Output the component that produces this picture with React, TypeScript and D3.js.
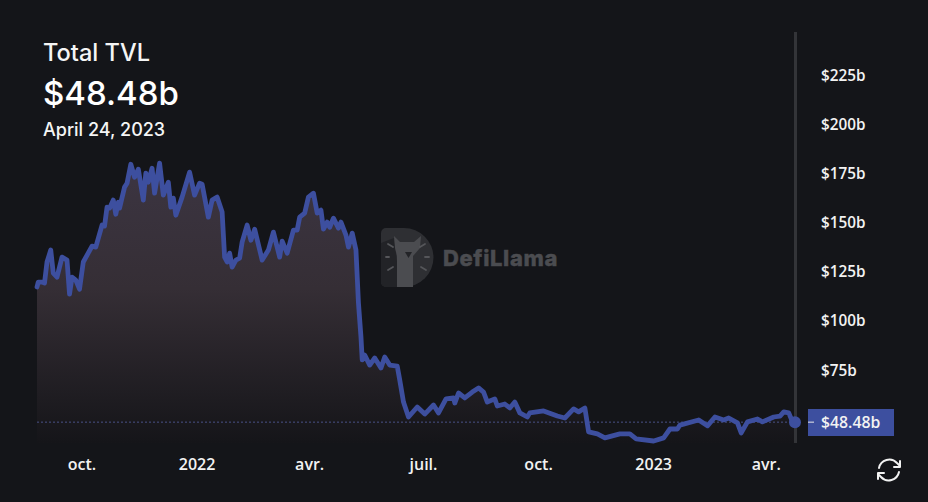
import React from "react";
import * as d3 from "d3";

const dayOffsets = [0,1,4,6,8,11,13,16,20,24,26,28,31,34,37,44,47,52,54,56,58,61,63,65,66,70,72,75,78,81,85,87,89,92,94,98,101,105,107,109,111,116,122,126,130,132,137,140,144,148,150,152,154,156,159,162,164,168,171,174,180,185,189,194,196,200,205,208,210,214,217,221,224,227,229,232,234,237,241,243,247,249,252,255,257,259,260,262,266,270,275,278,282,288,290,293,297,304,310,317,321,327,333,334,337,342,348,353,357,360,366,368,374,378,382,386,392,394,405,416,422,429,433,438,441,448,454,466,474,479,493,501,506,512,514,529,536,542,549,553,560,563,568,576,580,589,594,597,601,604,606];
const tvlValues = [117.2,119.7,119.7,119.2,129.9,136,124.3,122.2,132.4,130.9,113.6,122.2,120.7,116.1,129.9,138,137.5,148.7,148.2,157.8,157.3,161.4,154.2,160.3,157.3,168,170,179.6,173,177.1,161.4,175.1,170.5,177.6,164.9,180.2,163.9,170.5,157.8,162.4,153.7,162.9,175.6,163.9,170,169.5,152.7,161.4,162.9,155.3,132.4,129.9,134.4,127.3,130.9,131.9,140,148.7,141,146.6,130.9,136,145.1,132.4,140.5,134.4,146.1,146.1,152.7,154.8,162.9,164.9,154.8,156.3,146.6,150.2,147.6,152.2,147.1,150.2,143.6,137.5,144.6,136,109,91.8,80.1,82.6,77.5,81.1,76,81.6,77.5,77,69.9,58.7,51.1,56.2,52.6,57.2,53.2,60.3,60.8,58.2,63.3,60.8,63.8,65.9,63.8,58.7,60.3,56.7,57.7,55.7,58.7,53.2,51.1,53.2,54.2,51.6,50.6,55.2,53.7,55.7,43.5,42.5,40.5,42.5,42.5,40,38.9,40.5,45,45,47,49.6,46.6,51.1,49.6,50.6,48.1,43,48.6,50.1,48.6,51.1,51.6,53.7,53.2,48.6,48.48];

const startDate = "2021-08-26";
const xTickDates = ["2021-10-01","2022-01-01","2022-04-01","2022-07-01","2022-10-01","2023-01-01","2023-04-01"];
const xTickLabels = ["oct.","2022","avr.","juil.","oct.","2023","avr."];
const yTickValues = [75,100,125,150,175,200,225];
const title = "Total TVL";
const lastLabel = "$48.48b";
const lastDate = "April 24, 2023";

const BG = "#141519";
const BLUE = "#3d4f9f";
const LOGO = "#4b4c50";
const FONT = "Inter, sans-serif";
const AXIS_FONT = "'Open Sans', sans-serif";

const DAY = 86400000;
const t0 = Date.parse(startDate);
const points = dayOffsets.map((d, i) => ({ t: t0 + d * DAY, v: tvlValues[i] }));

const x = d3.scaleUtc().domain([t0, t0 + 606 * DAY]).range([37, 795]);
const y = d3.scaleLinear().domain([75, 225]).range([370, 75]);
const baseY = 443;

const line = d3.line<{ t: number; v: number }>().x(d => x(d.t)).y(d => y(d.v));
const area = d3.area<{ t: number; v: number }>().x(d => x(d.t)).y0(baseY).y1(d => y(d.v));

export default function App() {
  const last = points[points.length - 1];
  const lx = x(last.t);
  const ly = y(last.v);
  return (
    <svg width={928} height={502} viewBox="0 0 928 502"
      style={{ position: "fixed", left: 0, top: 0, display: "block", background: BG }}>
      <defs>
        <linearGradient id="fade" gradientUnits="userSpaceOnUse" x1="0" y1="163" x2="0" y2={baseY}>
          <stop offset="0" stopColor="#3c3542" stopOpacity={1} />
          <stop offset="0.45" stopColor="#352e35" stopOpacity={1} />
          <stop offset="1" stopColor="#151519" stopOpacity={1} />
        </linearGradient>
      </defs>
      <rect width={928} height={502} fill={BG} />

      {/* watermark */}
      <g>
        <path d="M381 233 a5 5 0 0 1 5 -5 h18 a29.5 29.5 0 0 1 0 59 h-18 a5 5 0 0 1 -5 -5 z" fill="#2e2f33" />
        <path d="M381 243 L394 238 L397 262 V287 H386 a5 5 0 0 1 -5 -5 z" fill="#222327" />
        <path d="M394 236 L400 242 H414 L421 236 L420 248 L413 256 V287 H397 V256 L395 248 z" fill={LOGO} />
        <path d="M405 252 H412 L408.5 258 z" fill="#232428" />
        <g stroke="#55565a" strokeWidth={1.8} strokeLinecap="round">
          <line x1={388} y1={244} x2={393} y2={247} />
          <line x1={386} y1={257} x2={389} y2={257} />
          <line x1={388} y1={270} x2={393} y2={267} />
          <line x1={420} y1={247} x2={425} y2={244} />
          <line x1={425} y1={257} x2={429} y2={257} />
          <line x1={421} y1={267} x2={426} y2={270} />
        </g>
        <text x={443} y={266} fontFamily={FONT} fontWeight={800} fontSize={22} letterSpacing={0.6} fill={LOGO} stroke={LOGO} strokeWidth={0.4}>DefiLlama</text>
      </g>

      <path d={area(points) ?? ""} fill="url(#fade)" />
      <line x1={37} x2={lx} y1={ly} y2={ly} stroke="#4a5288" strokeWidth={1} strokeDasharray="2 2" />
      <path d={line(points) ?? ""} fill="none" stroke={BLUE} strokeWidth={4.8} strokeLinejoin="round" strokeLinecap="round" />

      <line x1={795.5} x2={795.5} y1={32} y2={443} stroke="#333438" strokeWidth={3} />
      <circle cx={lx} cy={ly} r={6} fill={BLUE} />

      {yTickValues.map(v => (
        <text key={v} x={821} y={y(v) + 5.5} fontFamily={AXIS_FONT} fontWeight={600} fontSize={15.3} fill="#f2f2f2">
          {`$${v}b`}
        </text>
      ))}
      <rect x={808} y={409} width={86} height={27} fill={BLUE} />
      <line x1={808} x2={814} y1={ly} y2={ly} stroke="#e8e8e8" strokeWidth={1} />
      <text x={821} y={ly + 5.5} fontFamily={AXIS_FONT} fontWeight={600} fontSize={15.8} fill="#f2f2f2">{lastLabel}</text>

      {xTickDates.map((d, i) => (
        <text key={d} x={x(Date.parse(d))} y={470} textAnchor="middle" fontFamily={AXIS_FONT}
          fontWeight={600} fontSize={16} fill="#f2f2f2">{xTickLabels[i]}</text>
      ))}

      <text x={43} y={61} fontFamily={FONT} fontWeight={500} fontSize={23.6} fill="#f5f5f5">{title}</text>
      <text x={43} y={105} fontFamily={FONT} fontWeight={500} fontSize={33} fill="#ffffff">{lastLabel}</text>
      <text x={43} y={136} fontFamily={FONT} fontWeight={500} fontSize={18} fill="#f5f5f5">{lastDate}</text>

      {/* refresh icon */}
      <g fill="none" stroke="#f2f2f2" strokeWidth={2} strokeLinecap="round" strokeLinejoin="round">
        <path d="M879 468 a10.5 10.5 0 0 1 18 -5 l3 3" />
        <path d="M900 461 v6 h-6" />
        <path d="M899 472 a10.5 10.5 0 0 1 -18 5 l-3 -3" />
        <path d="M878 479 v-6 h6" />
      </g>
    </svg>
  );
}
